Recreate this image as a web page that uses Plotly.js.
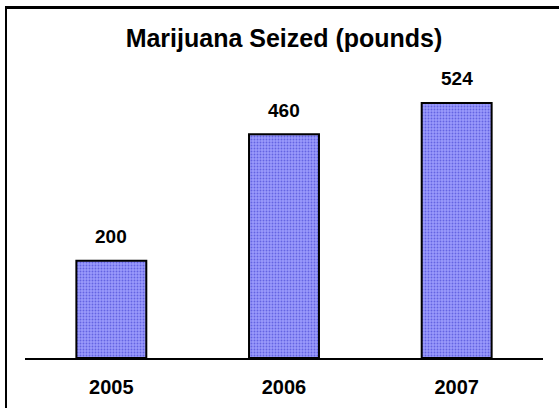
<!DOCTYPE html>
<html>
<head>
<meta charset="utf-8">
<script src="https://cdn.plot.ly/plotly-3.0.1.min.js"></script>
<style>
html,body{margin:0;padding:0;background:#fff;overflow:hidden}
#wrap{position:relative;width:559px;height:408px;overflow:hidden}
#frame{position:absolute;left:5px;top:6px;width:620px;height:460px;border:solid #000;border-width:3px 2px 2px 2px;pointer-events:none;box-sizing:border-box}
</style>
</head>
<body>
<div id="wrap">
<div id="chart" style="position:absolute;left:0;top:0;width:559px;height:408px"></div>
<div id="frame"></div>
</div>
<script>
const categories = ["2005", "2006", "2007"];
const values = [200, 460, 524];
const labels = ["200", "460", "524"];

const W = 559, H = 408;
const fam = "'Liberation Sans', Arial, sans-serif";

const trace = {
  type: "bar",
  x: categories,
  y: values,
  marker: {
    color: "#9696fa",
    line: {color: "#000", width: 2},
    pattern: {shape: ".", fgcolor: "#6464e2", bgcolor: "#9a9afc", size: 3, solidity: 0.3}
  },
  hoverinfo: "skip"
};

// annotation x given as the category's position on the category axis
const annotations = categories.map((c, i) => ({
  x: i, y: values[i], xref: "x", yref: "y",
  text: "<b>" + labels[i] + "</b>", showarrow: false,
  yanchor: "middle", yshift: 24,
  font: {family: fam, size: 19, color: "#000"}
}));

const layout = {
  width: W, height: H,
  margin: {l: 25, r: 16, t: 66, b: 50},
  paper_bgcolor: "#fff", plot_bgcolor: "#fff",
  showlegend: false,
  bargap: 0.595,
  font: {family: fam, color: "#000"},
  title: {
    text: "<b>Marijuana Seized (pounds)</b>",
    font: {family: fam, size: 25, color: "#000"},
    xref: "paper", x: 0.5, xanchor: "center",
    yref: "container", y: 1 - 38 / H, yanchor: "middle"
  },
  xaxis: {
    type: "category",
    tickvals: categories,
    ticktext: categories.map(c => "<b>" + c + "</b>"),
    showline: true, linecolor: "#000", linewidth: 2,
    showgrid: false, zeroline: false, ticks: "",
    ticklabelstandoff: 10,
    tickfont: {family: fam, size: 20, color: "#000"}
  },
  yaxis: {
    visible: false, range: [0, 600], showgrid: false, zeroline: false
  },
  annotations: annotations
};

Plotly.newPlot("chart", [trace], layout, {displayModeBar: false, staticPlot: true});
</script>
</body>
</html>
